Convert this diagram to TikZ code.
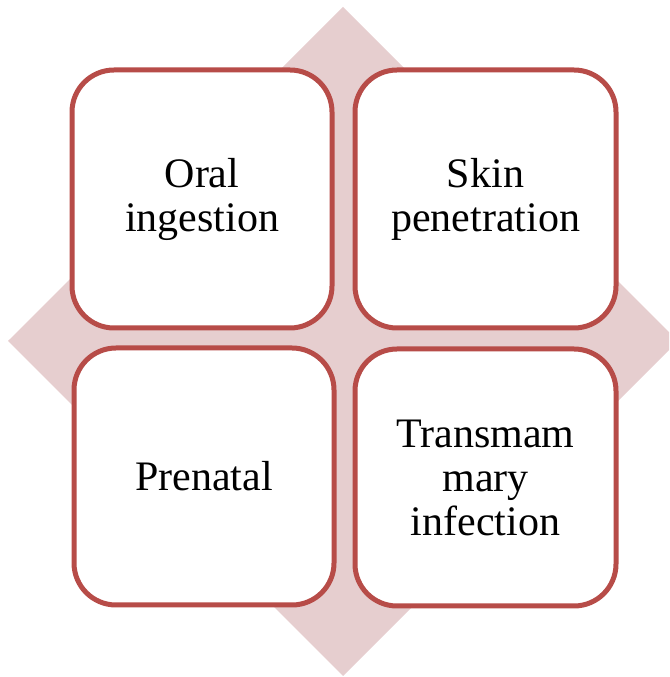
\documentclass[tikz,border=0pt]{standalone}
\usepackage{fontspec}
\setmainfont{Liberation Serif}
\definecolor{diamondfill}{RGB}{230,206,207}
\definecolor{boxline}{RGB}{183,76,72}
\begin{document}
\begin{tikzpicture}[x=1pt,y=1pt,
  routebox/.style={draw=boxline, line width=5pt, fill=white, rounded corners=42pt,
    inner sep=0pt, align=center, font=\fontsize{42}{44}\selectfont,
    minimum width=260pt, minimum height=258pt}]
\useasboundingbox (0,0) rectangle (669,677);
\begin{scope}
\clip (0,0) rectangle (669,677);
\fill[diamondfill] (343,670) -- (678,336) -- (343,1) -- (8,336) -- cycle;
\end{scope}
\node[routebox] (oral) at (202,478) {Oral\\ingestion};
\node[routebox, minimum width=261pt] (skin) at (485.5,478) {Skin\\penetration};
\node[routebox, minimum height=257pt] (pre) at (204,200.5) {Prenatal};
\node[routebox, minimum width=261pt, minimum height=257pt] (trans) at (485.5,199.5) {Transmam\\mary\\infection};
\end{tikzpicture}
\end{document}
